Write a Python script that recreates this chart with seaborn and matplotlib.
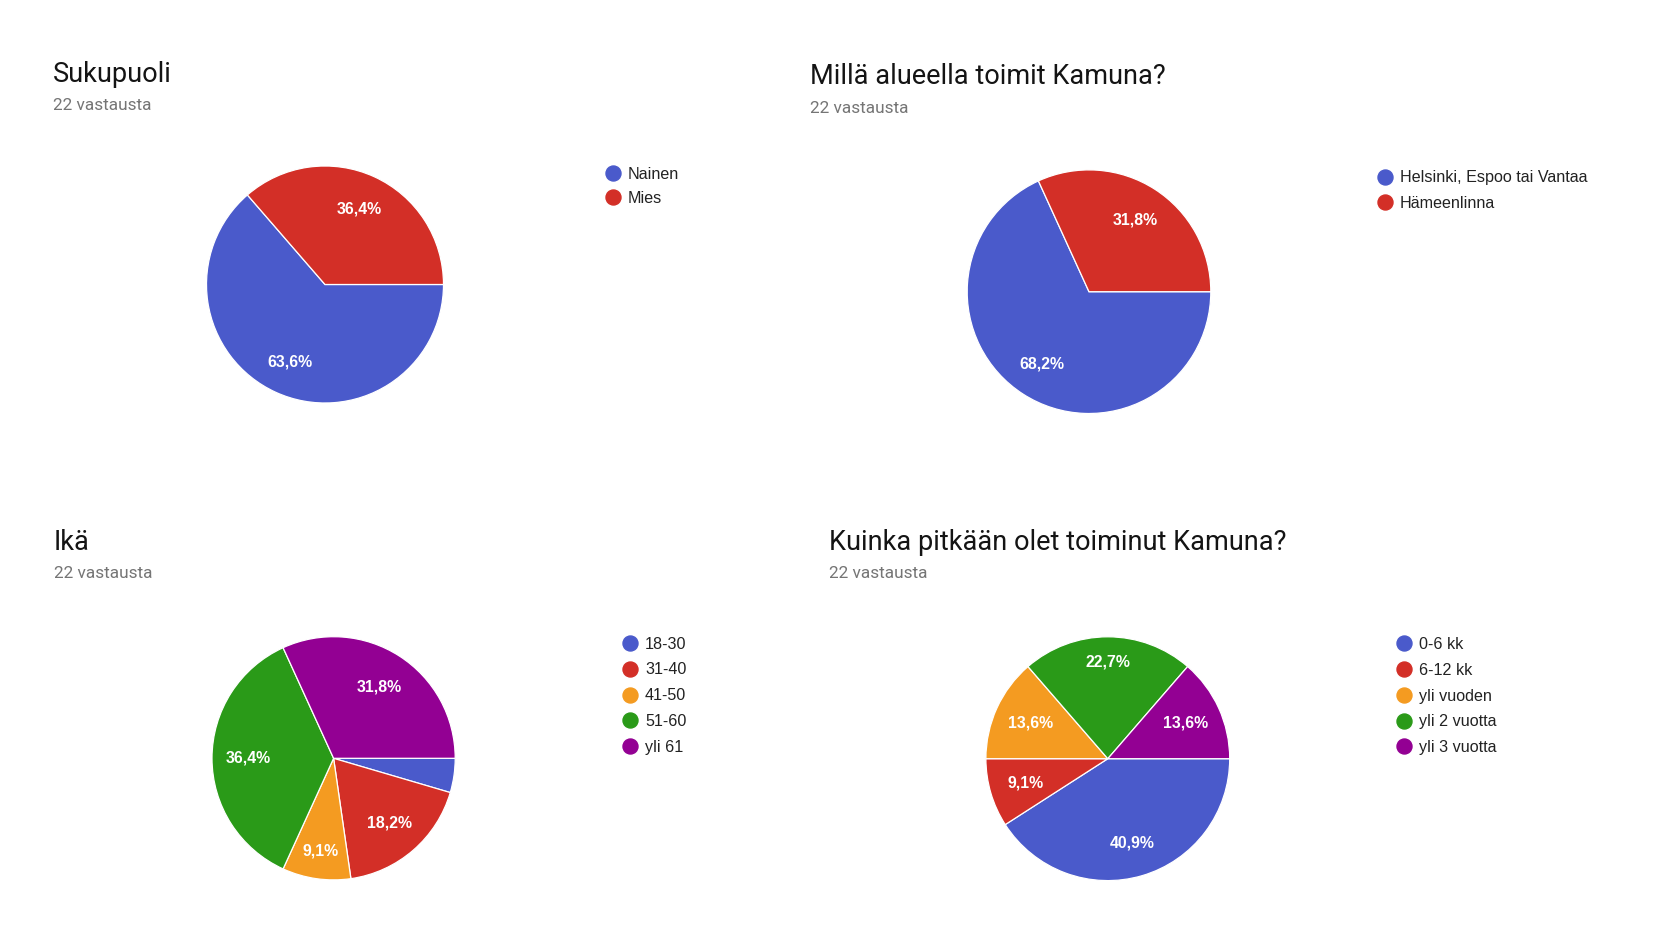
import matplotlib
matplotlib.use("Agg")
import numpy as np
import matplotlib.pyplot as plt
from matplotlib.lines import Line2D
import seaborn as sns

# ---------------- data ----------------
sukupuoli_labels = ["Nainen", "Mies"]
sukupuoli_counts = [14, 8]

alue_labels = ["Helsinki, Espoo tai Vantaa", "Hämeenlinna"]
alue_counts = [15, 7]

ika_labels = ["18-30", "31-40", "41-50", "51-60", "yli 61"]
ika_counts = [1, 4, 2, 8, 7]

kesto_labels = ["0-6 kk", "6-12 kk", "yli vuoden", "yli 2 vuotta", "yli 3 vuotta"]
kesto_counts = [9, 2, 3, 5, 3]

titles = ["Sukupuoli", "Millä alueella toimit Kamuna?", "Ikä",
          "Kuinka pitkään olet toiminut Kamuna?"]
subtitle = "22 vastausta"

# ---------------- style ----------------
sns.set_theme(style="white")
palette = sns.color_palette(["#4A5ACB", "#D32F27", "#F49B21", "#2A9A18", "#930093"])
plt.rcParams["font.family"] = ["Liberation Sans", "DejaVu Sans"]

W, H = 1671, 935
fig = plt.figure(figsize=(W / 100, H / 100), dpi=100)
fig.patch.set_facecolor("white")

# layout (pixel units, y from top); label_r = radial position of % labels per slice
panels = [
    dict(labels=sukupuoli_labels, counts=sukupuoli_counts, cx=325, cy=284.5, r=118.5,
         tx=53, ty=82.3, sy=110.0, lx=613.3, ly=[174.0, 198.3], title=titles[0],
         label_r=[0.72, 0.70]),
    dict(labels=alue_labels, counts=alue_counts, cx=1089, cy=291.7, r=121.8,
         tx=809.5, ty=84.3, sy=112.7, lx=1385.4, ly=[177.7, 203.3], title=titles[1],
         label_r=[0.71, 0.70]),
    dict(labels=ika_labels, counts=ika_counts, cx=333.6, cy=758.3, r=121.6,
         tx=54, ty=550.0, sy=578.5, lx=630.4, ly=[643.7, 669.7, 695.7, 721.7, 747.7], title=titles[2],
         label_r=[0.7, 0.7, 0.77, 0.7, 0.7]),
    dict(labels=kesto_labels, counts=kesto_counts, cx=1107.8, cy=758.7, r=121.9,
         tx=829.3, ty=549.5, sy=578.3, lx=1404.3, ly=[644.0, 669.3, 696.0, 722.7, 748.3], title=titles[3],
         label_r=[0.72, 0.7, 0.7, 0.79, 0.7]),
]


def pct_fmt(p):
    if p < 5:
        return ""
    return f"{p:.1f}".replace(".", ",") + "%"


LEG_FS = 11.6
leg_px = LEG_FS * 100 / 72

for p in panels:
    cx, cy, r = p["cx"], p["cy"], p["r"]
    ax = fig.add_axes([(cx - r) / W, 1 - (cy + r) / H, 2 * r / W, 2 * r / H])
    cols = palette[: len(p["counts"])]
    wedges, _, autotexts = ax.pie(
        p["counts"], colors=cols, startangle=0, counterclock=False, radius=1,
        autopct=pct_fmt, pctdistance=0.7,
        wedgeprops=dict(edgecolor="white", linewidth=0.9),
        textprops=dict(color="white", fontsize=11.4, fontweight="bold",
                       family=["Liberation Sans", "DejaVu Sans"]),
    )
    for w, t, d in zip(wedges, autotexts, p["label_r"]):
        mid = np.deg2rad((w.theta1 + w.theta2) / 2)
        t.set_position((d * np.cos(mid), d * np.sin(mid)))
    ax.set_xlim(-1.0, 1.0)
    ax.set_ylim(-1.0, 1.0)
    ax.set_aspect("equal")
    ax.axis("off")

    # titles
    fig.text(p["tx"] / W, 1 - p["ty"] / H, p["title"], ha="left", va="baseline",
             fontsize=19.5, color="#141414", family=["Roboto", "DejaVu Sans"])
    fig.text(p["tx"] / W, 1 - p["sy"] / H, subtitle, ha="left", va="baseline",
             fontsize=12.45, color="#757575", family=["Roboto", "DejaVu Sans"])

    # legend
    handles = [Line2D([0], [0], marker="o", linestyle="", markersize=10.8,
                      markerfacecolor=c, markeredgecolor=c) for c in cols]
    ymid = sum(p["ly"]) / len(p["ly"])
    spacing = (p["ly"][-1] - p["ly"][0]) / max(1, len(p["ly"]) - 1)
    hl = 15.6 / leg_px
    leg = fig.legend(
        handles, p["labels"], loc="center left",
        bbox_to_anchor=((p["lx"] - 7.8) / W, 1 - ymid / H),
        bbox_transform=fig.transFigure, frameon=False,
        borderpad=0, borderaxespad=0, handlelength=hl, handleheight=0.7,
        handletextpad=0.42, labelspacing=(spacing - 15.3) / leg_px,
        prop=dict(family=["Liberation Sans", "DejaVu Sans"], size=LEG_FS),
        labelcolor="#222222",
    )

fig.savefig("out.png", dpi=100, facecolor="white")
